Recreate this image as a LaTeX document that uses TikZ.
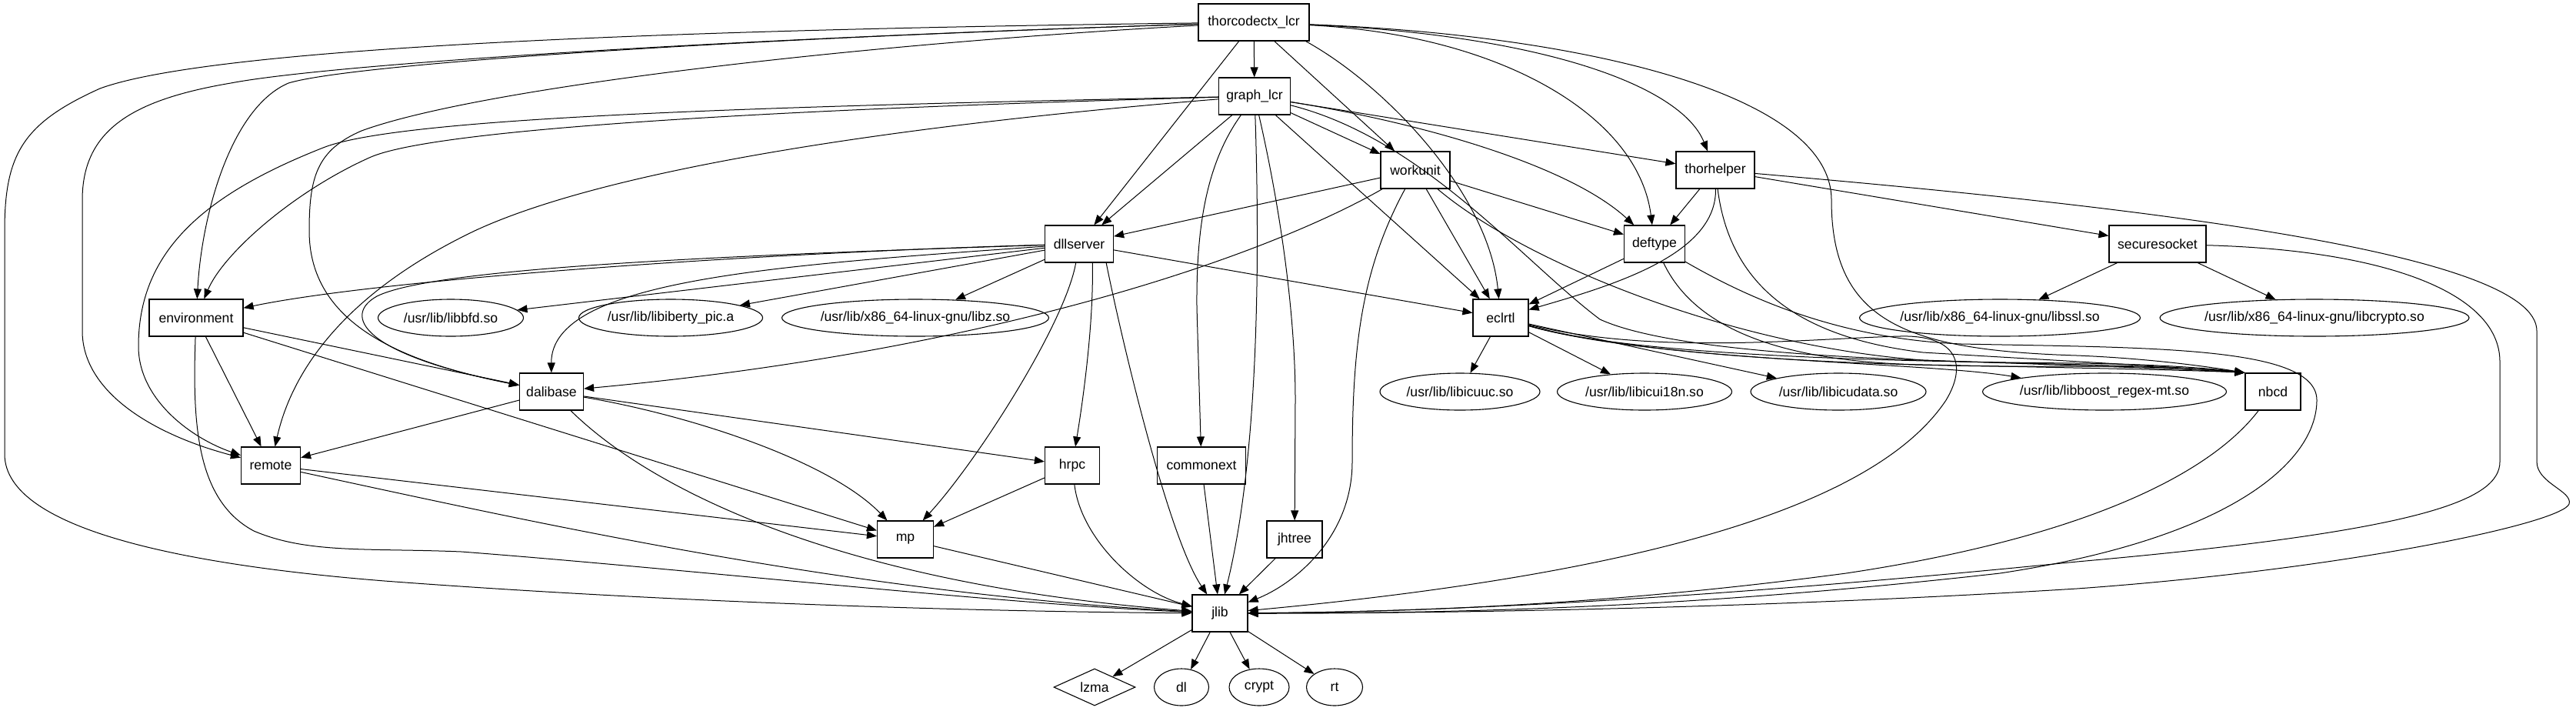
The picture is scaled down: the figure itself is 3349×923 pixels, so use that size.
\documentclass[tikz,border=0pt]{standalone}
\usepackage{fontspec}
\setmainfont{Liberation Sans}
\usetikzlibrary{arrows.meta,shapes.geometric}
\newcommand\zt[1]{\makebox[0pt]{#1}}
\begin{document}
\begin{tikzpicture}[x=0.5pt,y=-0.5pt,
  lbl/.style={font=\fontsize{8.8pt}{10pt}\selectfont, inner sep=0pt, minimum height=24pt},
  box/.style={lbl, draw, line width=0.6pt, rectangle},
  lib/.style={lbl, draw, line width=0.55pt, ellipse},
  dia/.style={lbl, draw, line width=0.55pt, diamond, aspect=2.2},
  e/.style={line width=0.5pt, -{Triangle[length=6.5pt,width=5pt]}}
]
\useasboundingbox (0,0) rectangle (3349,923);
% nodes
\node[box, minimum width=72pt] (T) at (1630,29) {thorcodectx\_lcr};
\node[box, minimum width=46.5pt] (G) at (1631,125) {graph\_lcr};
\node[box, minimum width=45pt] (W) at (1840,221) {workunit};
\node[box, minimum width=51pt] (TH) at (2230,221) {thorhelper};
\node[box, minimum width=44.5pt] (D) at (1403,317) {dllserver};
\node[box, minimum width=39.5pt] (DT) at (2151,317) {deftype};
\node[box, minimum width=63pt] (SS) at (2805,317) {securesocket};
\node[box, minimum width=61pt] (ENV) at (255,413) {environment};
\node[lib, minimum width=94.5pt] (bfd) at (586,413) {\zt{/usr/lib/libbfd.so}};
\node[lib, minimum width=119.5pt] (iberty) at (872,413) {\zt{/usr/lib/libiberty\_pic.a}};
\node[lib, minimum width=173.5pt] (libz) at (1190,413) {\zt{/usr/lib/x86\_64-linux-gnu/libz.so}};
\node[box, minimum width=36pt] (E) at (1951,413) {eclrtl};
\node[lib, minimum width=182.5pt] (ssl) at (2600,413) {\zt{/usr/lib/x86\_64-linux-gnu/libssl.so}};
\node[lib, minimum width=201pt] (crypto) at (3009,413) {\zt{/usr/lib/x86\_64-linux-gnu/libcrypto.so}};
\node[box, minimum width=41.5pt] (DB) at (717,509) {dalibase};
\node[lib, minimum width=104pt] (icuuc) at (1898,509) {\zt{/usr/lib/libicuuc.so}};
\node[lib, minimum width=113.5pt] (icui) at (2138,509) {\zt{/usr/lib/libicui18n.so}};
\node[lib, minimum width=114pt] (icud) at (2390,509) {\zt{/usr/lib/libicudata.so}};
\node[lib, minimum width=158.5pt] (boost) at (2736,509) {\zt{/usr/lib/libboost\_regex-mt.so}};
\node[box, minimum width=36pt] (nbcd) at (2955,509) {nbcd};
\node[box, minimum width=38.5pt] (R) at (352,605) {remote};
\node[box, minimum width=35.5pt] (H) at (1394,605) {hrpc};
\node[box, minimum width=57.5pt] (CX) at (1562,605) {commonext};
\node[box, minimum width=36.5pt] (MP) at (1177,701) {mp};
\node[box, minimum width=36pt] (JH) at (1683,701) {jhtree};
\node[box, minimum width=36pt] (J) at (1586,797) {jlib};
\node[dia, minimum width=53pt] (lzma) at (1423,893) {\zt{lzma}};
\node[lib, minimum width=35.5pt] (dl) at (1536,893) {\zt{dl}};
\node[lib, minimum width=39pt] (crypt) at (1637,893) {\zt{crypt}};
\node[lib, minimum width=36.5pt] (rt) at (1735,893) {\zt{rt}};
% thorcodectx_lcr
\draw[e] (T) -- (G);
\draw[e] (T) -- (D);
\draw[e] (T) -- (W);
\draw[e] (T.-20) .. controls (1800,110) and (1935,250) .. (E);
\draw[e] (T) .. controls (1950,45) and (2130,150) .. (DT);
\draw[e] (T) .. controls (2000,45) and (2185,110) .. (TH);
\draw[e] (T) .. controls (2050,45) and (2381,120) .. (2381,260) .. controls (2381,420) and (2480,455) .. (2700,462) .. controls (2800,466) and (2880,478) .. (nbcd.north west);
\draw[e] (T) .. controls (900,38) and (280,60) .. (130,115) .. controls (30,160) and (6,200) .. (6,300) -- (6,590) .. controls (6,690) and (250,735) .. (500,755) .. controls (900,785) and (1300,795) .. (J);
\draw[e] (T) .. controls (900,52) and (420,85) .. (300,108) .. controls (170,130) and (107,170) .. (107,260) -- (107,430) .. controls (107,510) and (200,565) .. (R);
\draw[e] (T) .. controls (900,52) and (450,85) .. (375,108) .. controls (300,140) and (262,280) .. (ENV);
\draw[e] (T) .. controls (1100,58) and (620,115) .. (470,170) .. controls (412,195) and (402,230) .. (402,300) .. controls (402,420) and (520,470) .. (DB);
% graph_lcr
\draw[e] (G) -- (D);
\draw[e] (G) -- (W);
\draw[e] (G) -- (TH);
\draw[e] (G) .. controls (1850,160) and (2040,215) .. (DT);
\draw[e] (G) -- (E);
\draw[e] (G) .. controls (1850,180) and (1980,340) .. (2080,415) .. controls (2200,470) and (2600,470) .. (2750,475) .. controls (2850,478) and (2890,482) .. (nbcd.north west);
\draw[e] (G) .. controls (1000,142) and (560,168) .. (480,205) .. controls (380,250) and (290,330) .. (ENV);
\draw[e] (G) .. controls (1000,138) and (520,152) .. (420,192) .. controls (260,255) and (180,330) .. (180,450) .. controls (180,520) and (250,570) .. (R);
\draw[e] (G) .. controls (1200,160) and (800,215) .. (617,300) .. controls (450,380) and (380,480) .. (R);
\draw[e] (G) .. controls (1570,210) and (1555,290) .. (1556,400) -- (CX);
\draw[e] (G) .. controls (1640,400) and (1630,620) .. (J);
\draw[e] (G) .. controls (1662,260) and (1684,400) .. (1684,520) -- (JH);
% dllserver
\draw[e] (D) .. controls (1000,328) and (500,362) .. (ENV);
\draw[e] (D) -- (bfd);
\draw[e] (D) -- (iberty);
\draw[e] (D) -- (libz);
\draw[e] (D) -- (E);
\draw[e] (D) .. controls (1000,345) and (716,365) .. (DB);
\draw[e] (D) .. controls (900,333) and (560,350) .. (490,385) .. controls (445,410) and (470,460) .. (DB);
\draw[e] (D.-100) .. controls (1385,420) and (1270,600) .. (MP);
\draw[e] (D.-55) .. controls (1422,420) and (1408,520) .. (H);
\draw[e] (D.-35) .. controls (1460,450) and (1520,700) .. (J);
% workunit
\draw[e] (W) -- (D);
\draw[e] (W) .. controls (1650,330) and (1300,455) .. (DB);
\draw[e] (W) .. controls (1770,350) and (1758,450) .. (1758,600) .. controls (1758,700) and (1680,760) .. (J);
\draw[e] (W) -- (E);
\draw[e] (W) -- (DT);
\draw[e] (W) .. controls (1980,340) and (2250,450) .. (2500,468) .. controls (2700,475) and (2850,480) .. (nbcd.north west);
% thorhelper
\draw[e] (TH) -- (DT);
\draw[e] (TH) .. controls (2232,330) and (2100,370) .. (E);
\draw[e] (TH) -- (SS);
\draw[e] (TH) .. controls (2800,270) and (3298,330) .. (3298,430) -- (3298,600) .. controls (3298,628) and (3345,638) .. (3340,655) .. controls (3330,680) and (3050,740) .. (2700,765) .. controls (2300,790) and (1900,797) .. (J);
\draw[e] (TH) .. controls (2250,380) and (2350,440) .. (2500,458) .. controls (2700,470) and (2850,478) .. (nbcd.north west);
% deftype
\draw[e] (DT) -- (E);
\draw[e] (DT) .. controls (2200,420) and (2300,470) .. (2500,474) .. controls (2700,478) and (2850,481) .. (nbcd.north west);
\draw[e] (DT) .. controls (2260,380) and (2380,440) .. (2550,447) .. controls (2800,452) and (3012,450) .. (3012,520) .. controls (3012,600) and (2900,700) .. (2600,745) .. controls (2200,790) and (1900,797) .. (J);
% eclrtl
\draw[e] (E) -- (icuuc);
\draw[e] (E) -- (icui);
\draw[e] (E) -- (icud);
\draw[e] (E) .. controls (2150,470) and (2500,470) .. (boost);
\draw[e] (E) .. controls (2150,468) and (2500,478) .. (2700,476) .. controls (2800,476) and (2880,480) .. (nbcd.north west);
\draw[e] (E) .. controls (2120,462) and (2450,470) .. (2700,472) .. controls (2800,473) and (2880,479) .. (nbcd.north west);
\draw[e] (E) .. controls (2150,462) and (2350,440) .. (2470,437) .. controls (2540,435) and (2560,470) .. (2530,520) .. controls (2450,640) and (2200,740) .. (J);
% securesocket, nbcd
\draw[e] (SS) -- (ssl);
\draw[e] (SS) -- (crypto);
\draw[e] (SS) .. controls (3100,325) and (3250,380) .. (3250,470) -- (3250,600) .. controls (3250,650) and (3150,690) .. (2700,730) .. controls (2250,775) and (1900,795) .. (J);
\draw[e] (nbcd) .. controls (2870,620) and (2700,700) .. (2400,745) .. controls (2100,785) and (1850,795) .. (J);
% environment
\draw[e] (ENV) -- (DB);
\draw[e] (ENV) -- (MP);
\draw[e] (ENV) -- (R);
\draw[e] (ENV) .. controls (250,550) and (255,650) .. (330,690) .. controls (400,720) and (480,712) .. (600,717) .. controls (900,740) and (1300,785) .. (J);
% dalibase
\draw[e] (DB) -- (R);
\draw[e] (DB) -- (H);
\draw[e] (DB) .. controls (900,540) and (1080,600) .. (MP);
\draw[e] (DB) .. controls (850,640) and (1100,760) .. (J);
% remote, hrpc, mp, commonext, jhtree
\draw[e] (R) -- (MP);
\draw[e] (R) .. controls (700,680) and (1100,770) .. (J);
\draw[e] (H) -- (MP);
\draw[e] (H) .. controls (1405,700) and (1480,770) .. (J);
\draw[e] (MP) -- (J);
\draw[e] (CX) -- (J);
\draw[e] (JH) -- (J);
% jlib
\draw[e] (J) -- (lzma);
\draw[e] (J) -- (dl);
\draw[e] (J) -- (crypt);
\draw[e] (J) -- (rt);
\end{tikzpicture}
\end{document}
